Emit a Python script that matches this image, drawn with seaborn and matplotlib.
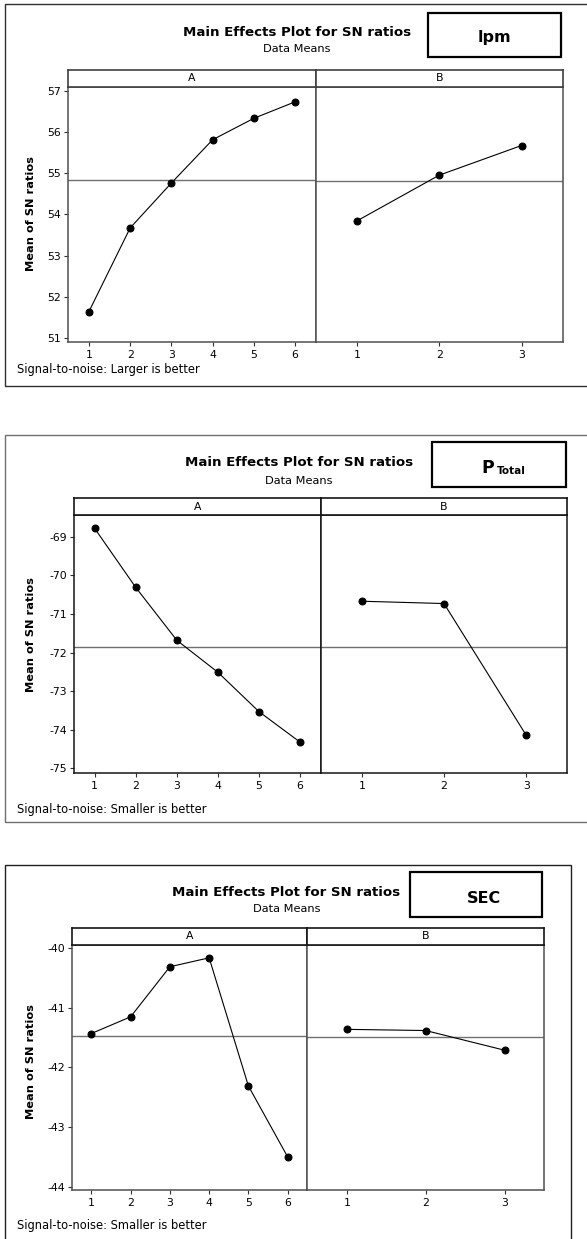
import numpy as np
import pandas as pd
import matplotlib
matplotlib.use("Agg")
import matplotlib.pyplot as plt
from matplotlib.patches import Rectangle
import seaborn as sns

# ---------------- data ----------------
levels_A = [1, 2, 3, 4, 5, 6]
levels_B = [1, 2, 3]

lpm_A = [51.64, 53.67, 54.76, 55.81, 56.33, 56.73]
lpm_B = [53.84, 54.95, 55.67]

ptot_A = [-68.78, -70.31, -71.68, -72.51, -73.53, -74.32]
ptot_B = [-70.67, -70.73, -74.14]

sec_A = [-41.43, -41.15, -40.31, -40.16, -42.31, -43.50]
sec_B = [-41.36, -41.38, -41.71]

yticks_lpm = [51, 52, 53, 54, 55, 56, 57]
yticks_ptot = [-75, -74, -73, -72, -71, -70, -69]
yticks_sec = [-44, -43, -42, -41, -40]

titles = ["Main Effects Plot for SN ratios"] * 3
subtitle = "Data Means"
footers = ["Signal-to-noise: Larger is better",
           "Signal-to-noise: Smaller is better",
           "Signal-to-noise: Smaller is better"]
ylabel = "Mean of SN ratios"
facet_names = ["A", "B"]

# ---------------- figure ----------------
sns.set_style("white")
plt.rcParams['font.family'] = ['DejaVu Sans']
plt.rcParams['text.color'] = 'black'
plt.rcParams['axes.labelcolor'] = 'black'
plt.rcParams['xtick.color'] = 'black'
plt.rcParams['ytick.color'] = 'black'

W, H = 587, 1239
DPI = 100
fig = plt.figure(figsize=(W / DPI, H / DPI), dpi=DPI)
fig.patch.set_facecolor("white")


def fx(x):
    return x / W


def fy(y):
    return 1 - y / H


def add_ax(x0, y0, x1, y1):
    return fig.add_axes([fx(x0), fy(y1), fx(x1) - fx(x0), fy(y0) - fy(y1)])


def frame_rect(x0, y0, x1, y1, lw, color):
    r = Rectangle((fx(x0), fy(y1)), fx(x1) - fx(x0), fy(y0) - fy(y1),
                  transform=fig.transFigure, fill=False, lw=lw,
                  edgecolor=color, zorder=0)
    fig.patches.append(r)


panels = [
    dict(A=lpm_A, B=lpm_B, yticks=yticks_lpm, ylim=(50.91, 57.097),
         left=68.3, div=315.7, right=562.7, st=69.7, sb=86.7, bot=341.7,
         tx=297, ty=32.7, sy=49.3, box=(428.3, 12.7, 560.7, 56.7),
         lab=(494, 37.3), frame=(5.3, 4, 620, 386), fy_=369.3, ly=214,
         spine="#505050", frame_col="#303030", name="lpm"),
    dict(A=ptot_A, B=ptot_B, yticks=yticks_ptot, ylim=(-75.11, -68.445),
         left=74, div=320.7, right=567.3, st=498, sb=515.3, bot=772.7,
         tx=298.7, ty=462.7, sy=480.7, box=(432.3, 442.3, 565.7, 487),
         lab=(498, 468), frame=(5.3, 435, 620, 822.3), fy_=809.3, ly=635,
         spine="#151515", frame_col="#707070", name="P"),
    dict(A=sec_A, B=sec_B, yticks=yticks_sec, ylim=(-44.055, -39.94),
         left=71.7, div=307.3, right=544, st=928, sb=944.7, bot=1190,
         tx=286.3, ty=892.3, sy=909.3, box=(409.7, 872.3, 542.3, 916.7),
         lab=(484, 898.3), frame=(5.3, 865, 570.7, 1260), fy_=1226, ly=1062,
         spine="#505050", frame_col="#202020", name="SEC"),
]

for i, p in enumerate(panels):
    frame_rect(*p["frame"], lw=1.0, color=p["frame_col"])

    # titles
    fig.text(fx(p["tx"]), fy(p["ty"]), titles[i], ha="center", va="center",
             fontsize=9.6, fontweight="bold", color="black")
    fig.text(fx(p["tx"]), fy(p["sy"]), subtitle, ha="center", va="center",
             fontsize=8.2, color="black")

    # response box
    bx0, by0, bx1, by1 = p["box"]
    frame_rect(bx0, by0, bx1, by1, lw=1.6, color="black")
    if p["name"] == "P":
        fig.text(fx(p["lab"][0] - 4), fy(p["lab"][1]), "P", ha="right",
                 va="center", fontsize=12.5, fontweight="bold")
        fig.text(fx(p["lab"][0] - 1), fy(p["lab"][1] + 3), "Total", ha="left",
                 va="center", fontsize=7.5, fontweight="bold")
    else:
        fig.text(fx(p["lab"][0]), fy(p["lab"][1]), p["name"], ha="center",
                 va="center", fontsize=11.5, fontweight="bold")

    # facets
    for j, (x0, x1, vals, levels) in enumerate([
            (p["left"], p["div"], p["A"], levels_A),
            (p["div"], p["right"], p["B"], levels_B)]):
        ax = add_ax(x0, p["sb"], x1, p["bot"])
        df = pd.DataFrame({"level": levels, "sn": vals})
        sns.lineplot(data=df, x="level", y="sn", ax=ax, color="black",
                     marker="o", markersize=5, markeredgecolor="black",
                     markerfacecolor="black", linewidth=0.8)
        ax.axhline(np.mean(vals), color="#707070", lw=1.0, zorder=0)
        ax.set_xlim(0.5, len(levels) + 0.5)
        ax.set_ylim(*p["ylim"])
        ax.set_xticks(levels)
        ax.set_xticklabels([str(v) for v in levels])
        ax.set_xlabel("")
        ax.set_ylabel("")
        ax.set_facecolor("white")
        for s in ax.spines.values():
            s.set_color(p["spine"])
            s.set_linewidth(1.1)
            s.set_visible(True)
        ax.tick_params(axis="x", direction="out", length=3, width=0.8,
                       color="#303030", labelcolor="black", labelsize=7.8,
                       pad=3, bottom=True)
        if j == 0:
            ax.set_yticks(p["yticks"])
            ax.set_yticklabels([str(v) for v in p["yticks"]])
            ax.tick_params(axis="y", direction="out", length=3, width=0.8,
                           color="#303030", labelcolor="black", labelsize=7.8,
                           pad=2, left=True)
        else:
            ax.set_yticks([])

        # strip
        sax = add_ax(x0, p["st"], x1, p["sb"])
        sax.set_xticks([])
        sax.set_yticks([])
        sax.set_facecolor("white")
        for s in sax.spines.values():
            s.set_color("#151515" if p["name"] != "lpm" else "#404040")
            s.set_linewidth(1.2)
        sax.text(0.5, 0.5, facet_names[j], ha="center", va="center",
                 fontsize=7.8, color="black", transform=sax.transAxes)

    # y label and footer
    fig.text(fx(31), fy(p["ly"]), ylabel, rotation=90, ha="center",
             va="center", fontsize=8.2, fontweight="bold", color="black")
    fig.text(fx(17.3), fy(p["fy_"]), footers[i], ha="left", va="center",
             fontsize=8.3, color="black")

fig.savefig("out.png", dpi=DPI, facecolor="white")
